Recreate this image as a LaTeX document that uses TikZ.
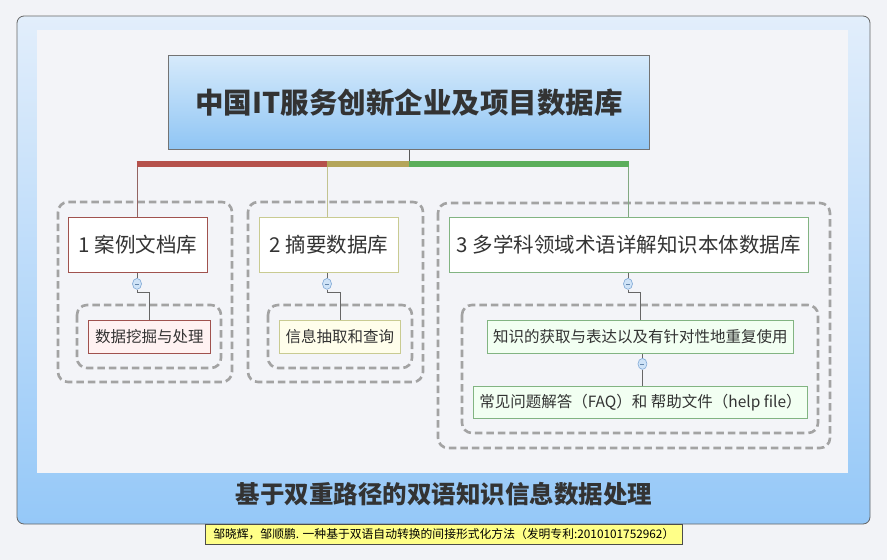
\documentclass[tikz,border=0pt]{standalone}
\usepackage{fontspec}
\setmainfont{Noto Sans CJK SC}
\usetikzlibrary{calc,shapes.geometric}
\definecolor{bgc}{HTML}{F2F3F7}
\definecolor{panelc}{HTML}{F3F4F8}
\definecolor{frametop}{HTML}{E2EEFB}
\definecolor{framebot}{HTML}{95C8F8}
\definecolor{ttltop}{HTML}{D6EAFB}
\definecolor{ttlbot}{HTML}{8FC5F4}
\definecolor{txtc}{HTML}{333333}
\definecolor{redc}{HTML}{B5514C}
\definecolor{olivec}{HTML}{B4A55A}
\definecolor{greenc}{HTML}{5BAE5B}
\definecolor{b1c}{HTML}{A0524E}
\definecolor{b2c}{HTML}{C9CB92}
\definecolor{b3c}{HTML}{82B482}
\definecolor{dashc}{HTML}{A3A3A3}
\definecolor{circc}{HTML}{CFE3F7}
\definecolor{circb}{HTML}{7FA8D6}
\definecolor{footc}{HTML}{FFFF88}
\tikzset{
  topicbox/.style={draw=#1, line width=0.9pt, fill=white, text=txtc, font=\fontsize{20.5}{22}\selectfont, inner sep=0pt, anchor=north west},
  subbox/.style={draw=#1, line width=0.9pt, text=txtc, font=\fontsize{15.5}{17}\selectfont, inner sep=0pt, anchor=north west},
  grpbox/.style={draw=dashc, line width=2.6pt, dash pattern=on 7.5pt off 4pt, rounded corners=10pt},
  linkline/.style={draw=#1, line width=0.9pt},
  collapse/.style={ellipse, draw=circb, fill=circc, line width=0.6pt, minimum width=9pt, minimum height=11pt, inner sep=0pt,
    path picture={\draw[circb!80!black, line width=0.7pt] ([xshift=-2pt]path picture bounding box.center) -- ([xshift=2pt]path picture bounding box.center);}},
}
\begin{document}
\begin{tikzpicture}[x=1pt,y=-1pt]
\useasboundingbox (0,0) rectangle (887,560);
\fill[bgc] (0,0) rectangle (887,560);
% outer frame
\shade[top color=frametop, bottom color=framebot, draw=gray!80!black, rounded corners=7pt, line width=0.8pt] (17,16) rectangle (870,524);
\fill[panelc] (37,30) rectangle (848,473);
% title
\node[draw=gray!90!black, line width=0.9pt, top color=ttltop, bottom color=ttlbot, minimum width=481pt, minimum height=94pt, anchor=north west, inner sep=0pt, text=txtc, font=\fontsize{28.5}{30}\selectfont\bfseries] (title) at (168,55) {中国IT服务创新企业及项目数据库};
% group boxes
\draw[grpbox] (58,202) rectangle (232,382);
\draw[grpbox] (248,202) rectangle (423,382);
\draw[grpbox] (438,203) rectangle (830,448);
\draw[grpbox] (77,305) rectangle (221,368);
\draw[grpbox] (268,305) rectangle (412,368);
\draw[grpbox] (462,305) rectangle (818,433);
% bar
\coordinate (b1) at (137,164);
\coordinate (b2) at (327,164);
\coordinate (b3) at (409,164);
\coordinate (b4) at (628,164);
\draw[linkline=gray!70!black] (title.south -| b3) -- (b3);
% topics
\node[topicbox=b1c, minimum width=139pt, minimum height=55pt] (t1) at (68,217) {1 案例文档库};
\node[topicbox=b2c, minimum width=139pt, minimum height=55pt] (t2) at (259,217) {2 摘要数据库};
\node[topicbox=b3c, minimum width=359pt, minimum height=55pt] (t3) at (449,217) {3 多学科领域术语详解知识本体数据库};
\draw[linkline=b1c!60!gray] (b1) -- (t1.north -| b1);
\draw[linkline=b2c!90!gray] (b2) -- (t2.north -| b2);
\draw[linkline=b3c!80!gray] (b4) -- (t3.north -| b4);
\draw[line width=6pt, draw=redc] ($(b1)+(-0.5,0)$) -- (b2);
\draw[line width=6pt, draw=olivec] (b2) -- (b3);
\draw[line width=6pt, draw=greenc] (b3) -- ($(b4)+(0.5,0)$);
% subtopics
\node[subbox=b1c, fill=white!95!red, minimum width=122pt, minimum height=33pt] (s1) at (88,320) {数据挖掘与处理};
\node[subbox=b2c, fill=white!92!yellow, minimum width=121pt, minimum height=33pt] (s2) at (279,320) {信息抽取和查询};
\node[subbox=b3c, fill=white!95!green, minimum width=306pt, minimum height=33pt] (s3) at (487,320) {知识的获取与表达以及有针对性地重复使用};
\node[subbox=b3c, fill=white!95!green, minimum width=334pt, minimum height=32pt] (s4) at (473,386) {常见问题解答（FAQ）和 帮助文件（help file）};
% collapse markers and links
\node[collapse] (c1) at (t1.south -| b1) [yshift=-11pt] {};
\node[collapse] (c2) at (t2.south -| b2) [yshift=-11pt] {};
\node[collapse] (c3) at (t3.south -| b4) [yshift=-11pt] {};
\node[collapse] (c4) at ($(s3.south)+(2,10)$) {};
\draw[linkline=gray!80!black, line width=0.8pt] (c1.south) |- ++(0,3) -| (s1.north);
\draw[linkline=gray!80!black, line width=0.8pt] (c2.south) |- ++(0,3) -| (s2.north);
\draw[linkline=gray!80!black, line width=0.8pt] (c3.south) |- ++(0,3) -| (s3.north);
\draw[linkline=gray!80!black, line width=0.8pt] (c4.south) -- (c4.south |- s4.north);
\draw[linkline=gray!80!black, line width=0.6pt] (t1.south -| c1) -- (c1.north);
\draw[linkline=gray!80!black, line width=0.6pt] (t2.south -| c2) -- (c2.north);
\draw[linkline=gray!80!black, line width=0.6pt] (t3.south -| c3) -- (c3.north);
\draw[linkline=gray!80!black, line width=0.6pt] (s3.south -| c4) -- (c4.north);
% caption
\node[text=txtc, font=\fontsize{24.5}{26}\selectfont\bfseries] (cap) at (444,494) {基于双重路径的双语知识信息数据处理};
% footnote
\node[draw=black!70, line width=0.6pt, fill=footc, anchor=north west, minimum width=477pt, minimum height=20pt, inner sep=0pt, font=\fontsize{11.8}{13}\selectfont] (foot) at (205,524) {邹晓辉，邹顺鹏. 一种基于双语自动转换的间接形式化方法（发明专利:2010101752962）};
\end{tikzpicture}
\end{document}
